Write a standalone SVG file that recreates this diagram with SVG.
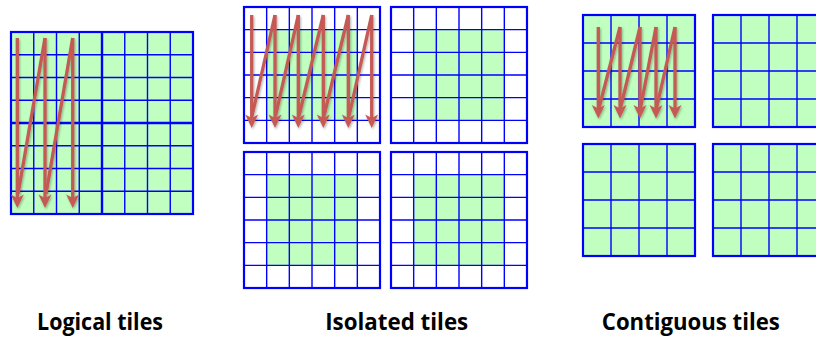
<svg xmlns="http://www.w3.org/2000/svg" width="816" height="337" viewBox="0 0 816 337">
<style>
.bg{fill:#ffffff}
.green{fill:#c0ffc0}
.grid{fill:none;stroke:#0000ff;stroke-width:1.4}
.border{fill:none;stroke:#0000ff;stroke-width:2.2}
.thick{fill:none;stroke:#0000ff;stroke-width:2.4}
.arr{fill:none;stroke:#c55a55;stroke-width:3.3;stroke-linecap:butt}
.lbl{font-family:"Open Sans","Liberation Sans",sans-serif;font-weight:bold;font-size:23px;fill:#000;text-anchor:middle}
</style>
<defs>
<marker id="head" markerUnits="userSpaceOnUse" markerWidth="20" markerHeight="20" orient="auto" overflow="visible" refX="0" refY="0">
<path d="M7,0 L-6.5,-6.5 L-3,0 L-6.5,6.5 Z" fill="#c55a55"/>
</marker>
<filter id="sh" x="-20%" y="-20%" width="140%" height="140%">
<feDropShadow dx="1" dy="1.5" stdDeviation="1.2" flood-color="#000" flood-opacity="0.3"/>
</filter>
<path id="g6" d="M22.67 0V136M45.33 0V136M68 0V136M90.67 0V136M113.33 0V136M0 22.67H136M0 45.33H136M0 68H136M0 90.67H136M0 113.33H136"/>
<path id="g4" d="M28 0V112M56 0V112M84 0V112M0 28H112M0 56H112M0 84H112"/>
</defs>

<g id="logical-tiles">
<rect class="green" x="11" y="32" width="182" height="182"/>
<path class="grid" d="M33.75 32V214M56.5 32V214M79.25 32V214M124.75 32V214M147.5 32V214M170.25 32V214M11 54.75H193M11 77.5H193M11 100.25H193M11 145.75H193M11 168.5H193M11 191.25H193"/>
<path class="thick" d="M102 32V214M11 123H193"/>
<rect class="border" x="11" y="32" width="182" height="182"/>
</g>

<g id="isolated-tile-1" transform="translate(244,7)">
<rect class="bg" width="136" height="136"/>
<rect class="green" x="22.67" y="22.67" width="90.67" height="90.67"/>
<use href="#g6" class="grid"/>
<rect class="border" width="136" height="136"/>
</g>
<g id="isolated-tile-2" transform="translate(391,7)">
<rect class="bg" width="136" height="136"/>
<rect class="green" x="22.67" y="22.67" width="90.67" height="90.67"/>
<use href="#g6" class="grid"/>
<rect class="border" width="136" height="136"/>
</g>
<g id="isolated-tile-3" transform="translate(244,152)">
<rect class="bg" width="136" height="136"/>
<rect class="green" x="22.67" y="22.67" width="90.67" height="90.67"/>
<use href="#g6" class="grid"/>
<rect class="border" width="136" height="136"/>
</g>
<g id="isolated-tile-4" transform="translate(391,152)">
<rect class="bg" width="136" height="136"/>
<rect class="green" x="22.67" y="22.67" width="90.67" height="90.67"/>
<use href="#g6" class="grid"/>
<rect class="border" width="136" height="136"/>
</g>

<g id="contiguous-tile-1" transform="translate(583,15)">
<rect class="green" width="112" height="112"/>
<use href="#g4" class="grid"/>
<rect class="border" width="112" height="112"/>
</g>
<g id="contiguous-tile-2" transform="translate(713,15)">
<rect class="green" width="112" height="112"/>
<use href="#g4" class="grid"/>
<rect class="border" width="112" height="112"/>
</g>
<g id="contiguous-tile-3" transform="translate(583,144)">
<rect class="green" width="112" height="112"/>
<use href="#g4" class="grid"/>
<rect class="border" width="112" height="112"/>
</g>
<g id="contiguous-tile-4" transform="translate(713,144)">
<rect class="green" width="112" height="112"/>
<use href="#g4" class="grid"/>
<rect class="border" width="112" height="112"/>
</g>

<g id="connectors" filter="url(#sh)">
<path class="arr" d="M45 38L18 194"/>
<path class="arr" d="M72.7 38L46 194"/>
<path class="arr" d="M17.3 38V201" marker-end="url(#head)"/>
<path class="arr" d="M45 38V201" marker-end="url(#head)"/>
<path class="arr" d="M72.7 38V201" marker-end="url(#head)"/>
<path class="arr" d="M275 15L252 116"/>
<path class="arr" d="M298.3 15L275.5 116"/>
<path class="arr" d="M323.3 15L299 116"/>
<path class="arr" d="M348.3 15L324 116"/>
<path class="arr" d="M371.7 15L349 116"/>
<path class="arr" d="M251.7 15V121" marker-end="url(#head)"/>
<path class="arr" d="M275 15V121" marker-end="url(#head)"/>
<path class="arr" d="M298.3 15V121" marker-end="url(#head)"/>
<path class="arr" d="M323.3 15V121" marker-end="url(#head)"/>
<path class="arr" d="M348.3 15V121" marker-end="url(#head)"/>
<path class="arr" d="M371.7 15V121" marker-end="url(#head)"/>
<path class="arr" d="M620 27L599 108"/>
<path class="arr" d="M640 27L620.5 108"/>
<path class="arr" d="M656 27L640.5 108"/>
<path class="arr" d="M675 27L656.5 108"/>
<path class="arr" d="M598.3 27V111.5" marker-end="url(#head)"/>
<path class="arr" d="M620 27V111.5" marker-end="url(#head)"/>
<path class="arr" d="M640 27V111.5" marker-end="url(#head)"/>
<path class="arr" d="M656 27V111.5" marker-end="url(#head)"/>
<path class="arr" d="M675 27V111.5" marker-end="url(#head)"/>
</g>

<text class="lbl" x="100" y="330" textLength="126" lengthAdjust="spacingAndGlyphs">Logical tiles</text>
<text class="lbl" x="396.7" y="330" textLength="143" lengthAdjust="spacingAndGlyphs">Isolated tiles</text>
<text class="lbl" x="690.8" y="330" textLength="178" lengthAdjust="spacingAndGlyphs">Contiguous tiles</text>
</svg>
